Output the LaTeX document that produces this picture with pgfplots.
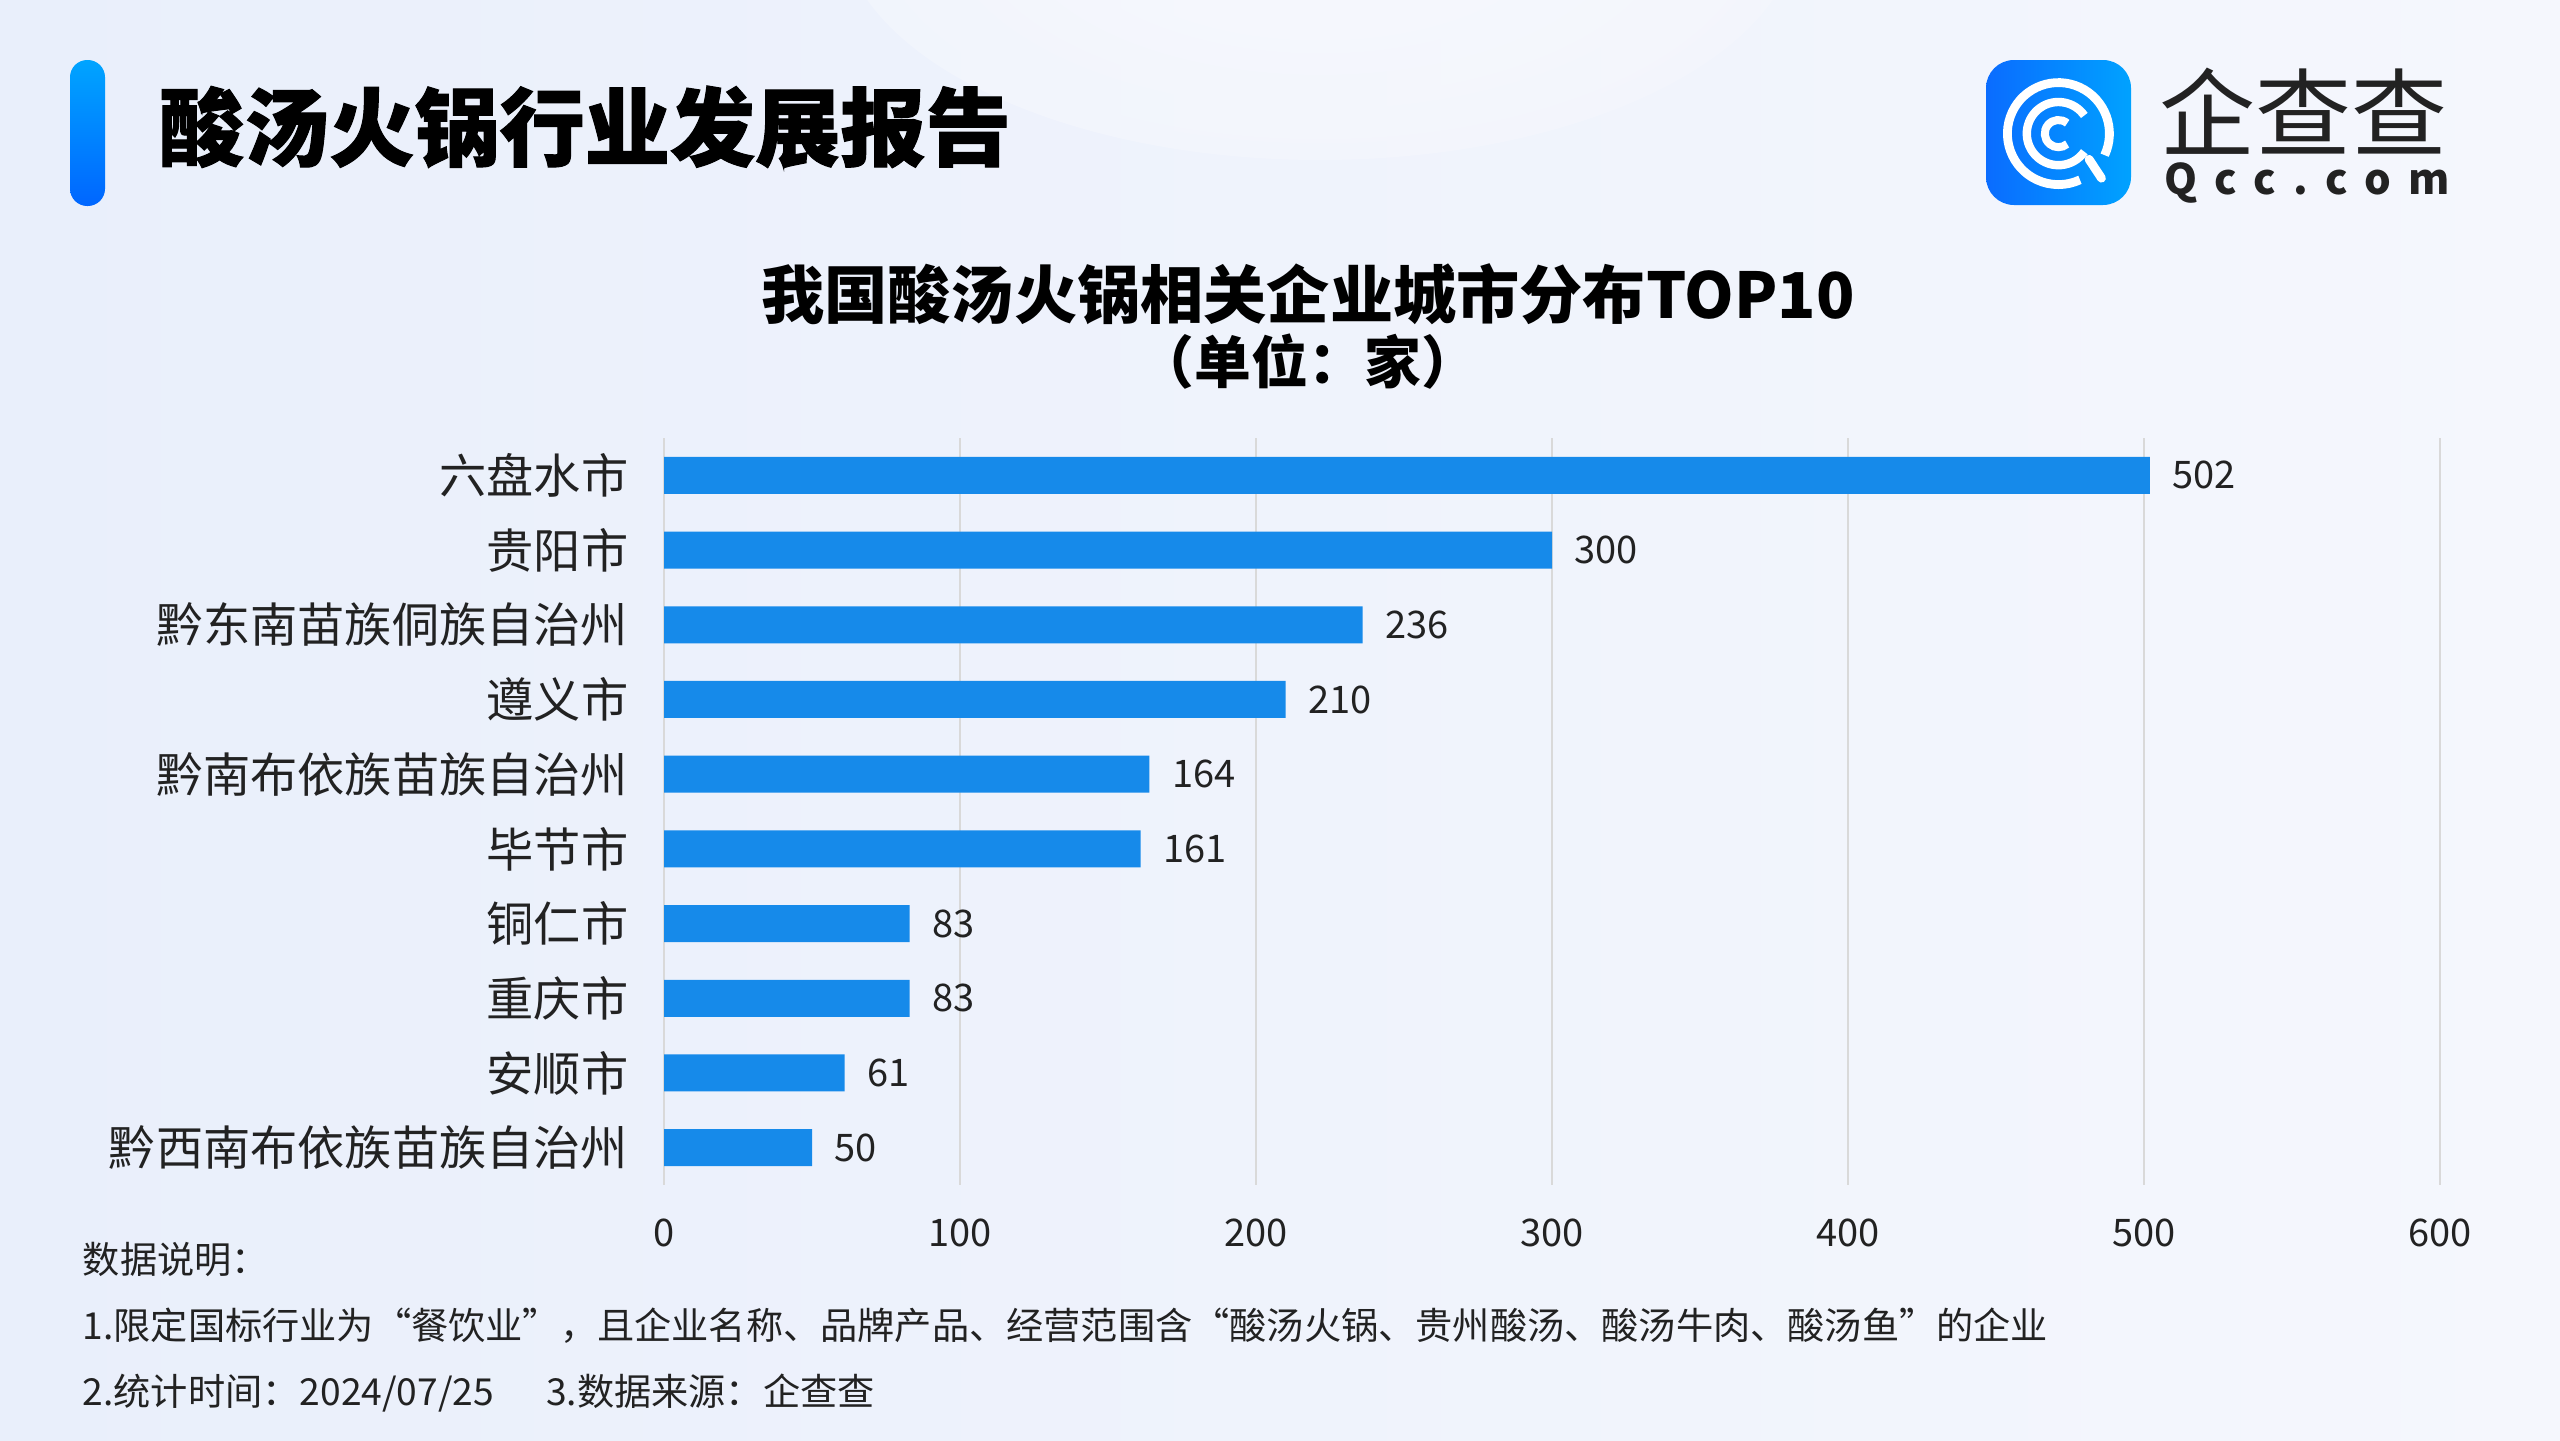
\documentclass[border=0pt]{standalone}
\usepackage{pgfplots}
\pgfplotsset{compat=1.18}
\usepackage{fontspec}
\setmainfont{Noto Sans CJK SC}
\definecolor{barblue}{HTML}{168AEA}
\definecolor{gridgray}{HTML}{D9D9D9}
\definecolor{bgL}{HTML}{E9EFFB}
\definecolor{bgR}{HTML}{F5F7FD}
\definecolor{hdrTop}{HTML}{00A4FF}
\definecolor{hdrBot}{HTML}{0066FF}
\definecolor{logoL}{HTML}{0A6CFF}
\definecolor{logoR}{HTML}{00A2FF}
\definecolor{txt}{HTML}{222222}
\begin{document}
\begin{tikzpicture}[x=1pt,y=1pt]
\path[use as bounding box] (0,0) rectangle (640,360);
\shade[left color=bgL, right color=bgR] (0,0) rectangle (640,360);
\shade[inner color=white!70!bgR, outer color=bgR, opacity=0.6] (330,380) ellipse (120 and 60);
% header
\shade[top color=hdrTop, bottom color=hdrBot, rounded corners=4.3pt] (17.5,308.5) rectangle (26.25,345);
\node[anchor=west, inner sep=0pt, font=\fontsize{21.3}{22}\selectfont\bfseries\addfontfeature{FakeBold=1.2}, text=black] at (39.5,328.25) {酸汤火锅行业发展报告};
% logo
\shade[left color=logoL, right color=logoR, rounded corners=7pt] (496.5,308.75) rectangle (532.75,345);
\begin{scope}[shift={(514.6,326.6)}]
\draw[white, line width=2.2pt] (-25:12.75) arc[start angle=-25, end angle=295, radius=12.75];
\draw[white, line width=2.2pt, line cap=round] (-40:10) -- (-46:15.5);
\draw[white, line width=2.1pt] (35:7.9) arc[start angle=35, end angle=325, radius=7.9];
\draw[white, line width=2pt] (50:3.4) arc[start angle=50, end angle=310, radius=3.4];
\end{scope}
\node[anchor=base, inner sep=0pt, text depth=0pt, font=\fontsize{24}{24}\selectfont, text=txt] at (575.9,322.6) {企查查};
\node[inner sep=0pt, font=\fontsize{10.5}{11}\selectfont\bfseries\addfontfeature{LetterSpace=42}, text=txt] at (576.8,314.2) {Qcc.com};
% titles
\node[inner sep=0pt, font=\fontsize{15.8}{16}\selectfont\bfseries, text=black] at (327,286.5) {我国酸汤火锅相关企业城市分布TOP10};
\node[inner sep=0pt, font=\fontsize{14.2}{15}\selectfont\bfseries, text=black] at (327,269.5) {（单位：家）};
% chart
\begin{axis}[
  at={(166pt,63.75pt)}, anchor=south west,
  scale only axis, width=444pt, height=186.75pt,
  xmin=0, xmax=600, ymin=-0.5, ymax=9.5,
  y dir=reverse,
  xbar, bar width=9.25pt,
  axis line style={draw=none},
  major tick length=0pt,
  xtick={0,100,...,600},
  ytick={0,...,9},
  yticklabels={六盘水市,贵阳市,黔东南苗族侗族自治州,遵义市,黔南布依族苗族自治州,毕节市,铜仁市,重庆市,安顺市,黔西南布依族苗族自治州},
  xmajorgrids,
  grid style={gridgray, line width=0.5pt},
  /pgf/number format/assume math mode=true,
  yticklabel style={font=\fontsize{11.8}{12}\selectfont, text=txt, inner sep=0pt, xshift=-8.75pt},
  xticklabel style={font=\fontsize{9.5}{10}\selectfont, text=txt, inner sep=0pt, yshift=-8.25pt},
  nodes near coords,
  nodes near coords style={font=\fontsize{9.5}{10}\selectfont, text=txt, anchor=west, inner sep=0pt, xshift=5.5pt},
]
\addplot[fill=barblue, draw=none] coordinates {(502,0) (300,1) (236,2) (210,3) (164,4) (161,5) (83,6) (83,7) (61,8) (50,9)};
\end{axis}
% footnotes
\node[anchor=west, inner sep=0pt, font=\fontsize{9.3}{10}\selectfont, text=txt] at (20.5,45.25) {数据说明：};
\node[anchor=west, inner sep=0pt, font=\fontsize{9.3}{10}\selectfont, text=txt] at (20.5,28.5) {1.限定国标行业为“餐饮业”，且企业名称、品牌产品、经营范围含“酸汤火锅、贵州酸汤、酸汤牛肉、酸汤鱼”的企业};
\node[anchor=west, inner sep=0pt, font=\fontsize{9.3}{10}\selectfont, text=txt] at (20.5,11.75) {2.统计时间：2024/07/25\hspace{1.4em}3.数据来源：企查查};
\end{tikzpicture}
\end{document}
